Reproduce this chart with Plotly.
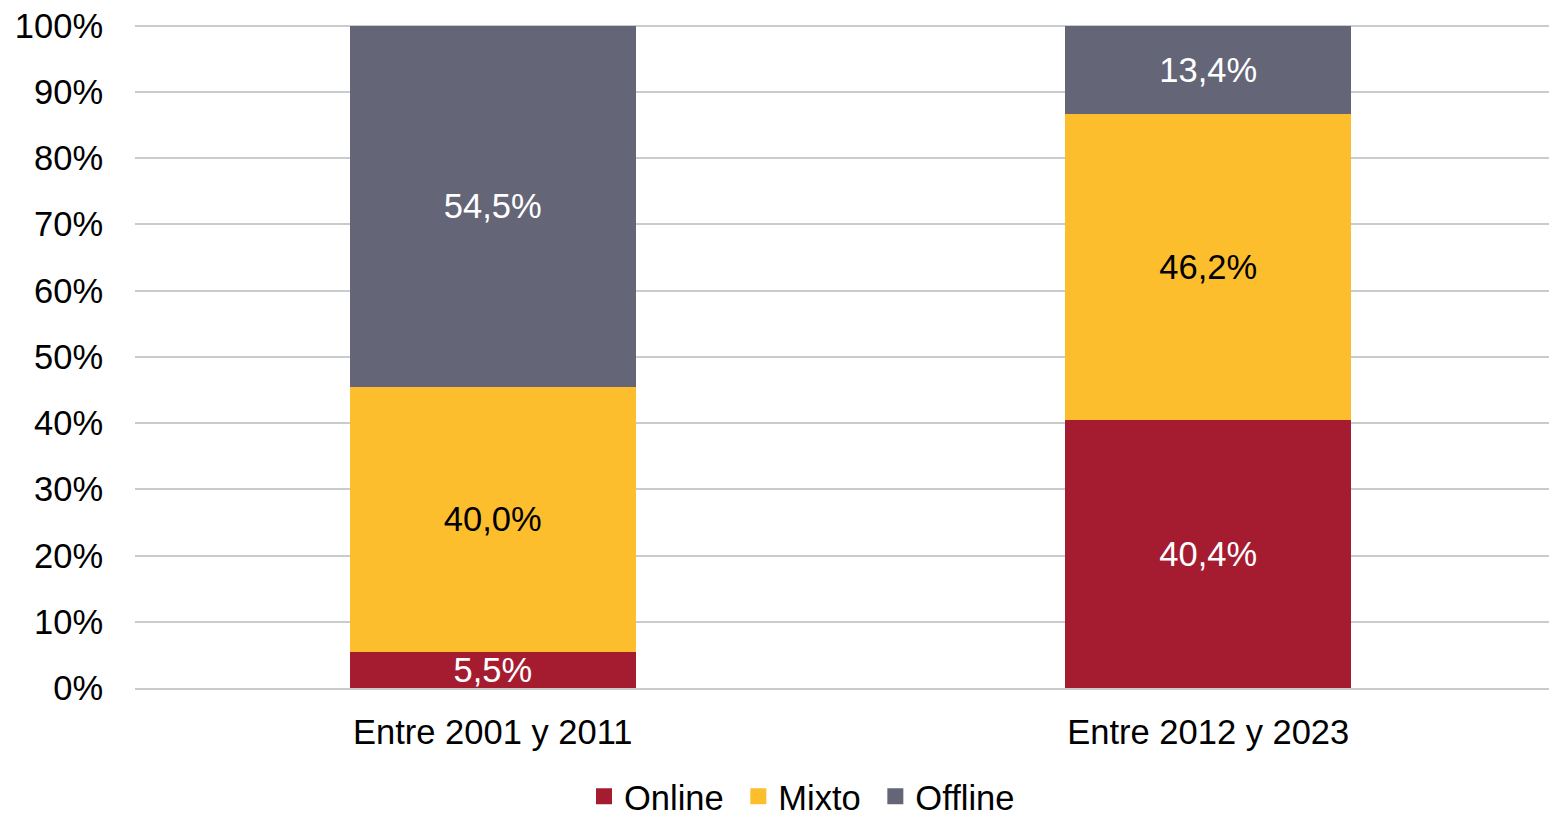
import plotly.graph_objects as go

categories = ["Entre 2001 y 2011", "Entre 2012 y 2023"]
online = [5.5, 40.4]
mixto = [40.0, 46.2]
offline = [54.5, 13.4]
y_ticks = [0, 10, 20, 30, 40, 50, 60, 70, 80, 90, 100]
y_tick_labels = [f"{v}%" for v in y_ticks]

FONT = "Liberation Sans, Arial, sans-serif"
FS = 34.5

series = [
    ("Online", online, "#A51C30", "white"),
    ("Mixto", mixto, "#FDBE2E", "black"),
    ("Offline", offline, "#646678", "white"),
]

fig = go.Figure()
for name, vals, color, tcolor in series:
    fig.add_trace(go.Bar(
        name=name, x=categories, y=vals,
        marker=dict(color=color, line=dict(width=0)),
        texttemplate="%{y:.1f}%", textposition="inside",
        insidetextanchor="middle",
        textfont=dict(color=tcolor, size=FS, family=FONT),
        constraintext="none", showlegend=False,
    ))
# legend entries with square swatches
for name, vals, color, tcolor in series:
    fig.add_trace(go.Scatter(
        name=name + "\u00a0", x=[categories[0]], y=[None], mode="markers",
        marker=dict(symbol="square", size=17, color=color),
        showlegend=True, hoverinfo="skip",
    ))

fig.update_layout(
    barmode="stack",
    bargap=0.6,
    separators=",.",
    width=1549, height=814,
    margin=dict(l=127, r=0, t=16, b=134, autoexpand=False),
    paper_bgcolor="white", plot_bgcolor="white",
    font=dict(family=FONT, size=FS, color="black"),
    uniformtext=dict(minsize=FS, mode="show"),
    showlegend=True,
    legend=dict(
        orientation="h", traceorder="normal",
        xref="container", yref="paper",
        x=0.5155, xanchor="center", y=-0.163, yanchor="middle",
        font=dict(size=FS, family=FONT),
        itemwidth=30, tracegroupgap=0,
    ),
    yaxis=dict(
        range=[0, 100.25], tickvals=y_ticks, ticktext=y_tick_labels,
        showgrid=True, gridcolor="#C8CCCF", gridwidth=2,
        zeroline=False, showline=False,
        ticks="outside", ticklen=24, tickcolor="rgba(255,255,255,0)",
        ticklabeloverflow="allow",
        tickfont=dict(size=FS, family=FONT),
        automargin=False,
    ),
    xaxis=dict(
        type="category", range=[-0.5, 1.4874],
        showline=True, linecolor="#C8CCCF", linewidth=2,
        ticks="", ticklabelstandoff=13,
        ticklabeloverflow="allow",
        tickfont=dict(size=FS, family=FONT),
        automargin=False,
    ),
)

fig.write_html("out.html")
